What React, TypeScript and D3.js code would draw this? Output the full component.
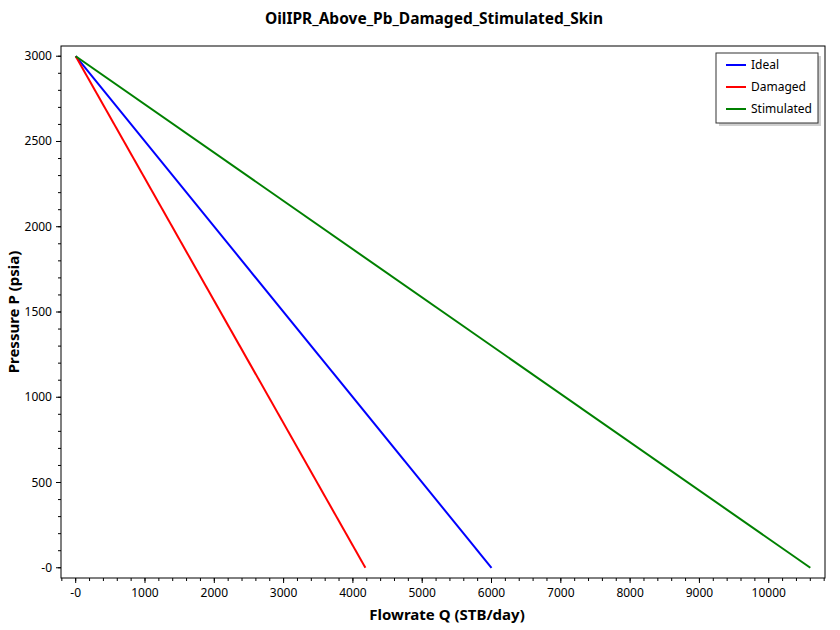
import * as d3 from 'd3';

const W = 840;
const H = 630;
const margin = { top: 46, right: 15, bottom: 52, left: 61 };

const seriesNames = ['Ideal', 'Damaged', 'Stimulated'];
const seriesColors = ['#0000ff', '#ff0000', '#008000'];
// each series: flowrate Q (STB/day) against pressure P (psia)
const idealQ = [0, 6000];
const idealP = [3000, 0];
const damagedQ = [0, 4180];
const damagedP = [3000, 0];
const stimulatedQ = [0, 10600];
const stimulatedP = [3000, 0];

const xMajor = [0, 1000, 2000, 3000, 4000, 5000, 6000, 7000, 8000, 9000, 10000];
const yMajor = [0, 500, 1000, 1500, 2000, 2500, 3000];

const font = '"Segoe UI", "Noto Sans", sans-serif';

export default function App() {
  const series = [
    { q: idealQ, p: idealP },
    { q: damagedQ, p: damagedP },
    { q: stimulatedQ, p: stimulatedP },
  ];
  const qMax = d3.max(series.flatMap((s) => s.q)) as number;
  const pMax = d3.max(series.flatMap((s) => s.p)) as number;

  const x = d3
    .scaleLinear()
    .domain([-qMax * 0.02, qMax * 1.02])
    .range([margin.left, W - margin.right]);
  const y = d3
    .scaleLinear()
    .domain([-pMax * 0.02, pMax * 1.02])
    .range([H - margin.bottom, margin.top]);

  const x0 = margin.left;
  const x1 = W - margin.right;
  const y0 = H - margin.bottom;
  const y1 = margin.top;

  const xMinor = d3.range(-200, x.domain()[1], 200).filter((v) => v >= x.domain()[0]);
  const yMinor = d3.range(0, y.domain()[1], 100);

  const line = d3
    .line<[number, number]>()
    .x((d) => x(d[0]))
    .y((d) => y(d[1]));

  const fmt = (v: number) => (v === 0 ? '-0' : String(v));

  const lx = 716;
  const ly = 53;

  return (
    <svg width={W} height={H} style={{ position: 'absolute', left: 0, top: 0 }} fontFamily={font}>
      <rect width={W} height={H} fill="#fff" />
      <text x={434} y={24} textAnchor="middle" fontSize={15.5} fontWeight="bold">
        OilIPR_Above_Pb_Damaged_Stimulated_Skin
      </text>

      <g>
        {series.map((s, i) => (
          <path
            key={i}
            d={line(s.q.map((q, j) => [q, s.p[j]]) as [number, number][]) as string}
            fill="none"
            stroke={seriesColors[i]}
            strokeWidth={2}
          />
        ))}
      </g>

      <rect x={x0} y={y1} width={x1 - x0} height={y0 - y1} fill="none" stroke="#000" strokeWidth={1} />

      <g>
        {xMinor.map((v) => (
          <line key={'xm' + v} x1={x(v)} x2={x(v)} y1={y0} y2={y0 + 3} stroke="#000" />
        ))}
        {xMajor.map((v) => (
          <g key={'x' + v}>
            <line x1={x(v)} x2={x(v)} y1={y0} y2={y0 + 5} stroke="#000" />
            <text x={x(v)} y={y0 + 19} textAnchor="middle" fontSize={12}>
              {fmt(v)}
            </text>
          </g>
        ))}
        {yMinor.map((v) => (
          <line key={'ym' + v} x1={x0 - 3} x2={x0} y1={y(v)} y2={y(v)} stroke="#000" />
        ))}
        {yMajor.map((v) => (
          <g key={'y' + v}>
            <line x1={x0 - 5} x2={x0} y1={y(v)} y2={y(v)} stroke="#000" />
            <text x={x0 - 9} y={y(v) + 4} textAnchor="end" fontSize={12}>
              {fmt(v)}
            </text>
          </g>
        ))}
      </g>

      <text x={447} y={620} textAnchor="middle" fontSize={15} fontWeight="bold">
        Flowrate Q (STB/day)
      </text>
      <text
        transform={`translate(19, ${(y0 + y1) / 2}) rotate(-90)`}
        textAnchor="middle"
        fontSize={15}
        fontWeight="bold"
      >
        Pressure P (psia)
      </text>

      <g>
        <rect x={lx + 3} y={ly + 3} width={102} height={70} fill="#bbb" opacity={0.7} />
        <rect x={lx} y={ly} width={102} height={70} fill="#fff" stroke="#333" strokeWidth={1} />
        {seriesNames.map((n, i) => (
          <g key={n}>
            <line
              x1={lx + 10}
              x2={lx + 30}
              y1={ly + 12 + i * 22}
              y2={ly + 12 + i * 22}
              stroke={seriesColors[i]}
              strokeWidth={2}
            />
            <text x={lx + 35} y={ly + 16 + i * 22} fontSize={12}>
              {n}
            </text>
          </g>
        ))}
      </g>
    </svg>
  );
}
